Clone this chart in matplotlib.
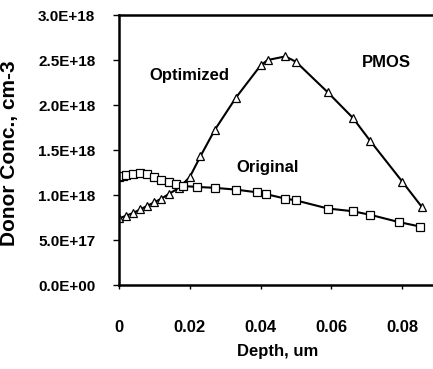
import matplotlib
matplotlib.use("Agg")
import matplotlib.pyplot as plt

# depth (um) and donor concentration (1e18 cm-3)
opt_depth = [0.0, 0.002, 0.004, 0.006, 0.008, 0.010, 0.012, 0.014, 0.017,
             0.020, 0.023, 0.027, 0.033, 0.040, 0.042, 0.047, 0.050, 0.059,
             0.066, 0.071, 0.080, 0.0855]
opt_conc = [0.74, 0.77, 0.80, 0.84, 0.88, 0.92, 0.96, 1.01, 1.08,
            1.20, 1.43, 1.72, 2.08, 2.44, 2.50, 2.54, 2.48, 2.14,
            1.86, 1.60, 1.15, 0.87]

orig_depth = [0.0, 0.001, 0.002, 0.004, 0.006, 0.008, 0.010, 0.012, 0.014,
              0.016, 0.018, 0.022, 0.027, 0.033, 0.039, 0.0415, 0.047,
              0.050, 0.059, 0.066, 0.071, 0.079, 0.085]
orig_conc = [1.20, 1.21, 1.22, 1.23, 1.24, 1.23, 1.20, 1.17, 1.14,
             1.12, 1.10, 1.09, 1.08, 1.06, 1.03, 1.01, 0.96,
             0.94, 0.85, 0.82, 0.78, 0.70, 0.65]

x_ticks = [0, 0.02, 0.04, 0.06, 0.08]
x_labels = ["0", "0.02", "0.04", "0.06", "0.08"]
y_ticks = [0, 0.5, 1.0, 1.5, 2.0, 2.5, 3.0]
y_labels = ["0.0E+00", "5.0E+17", "1.0E+18", "1.5E+18",
            "2.0E+18", "2.5E+18", "3.0E+18"]

plt.rcParams["font.family"] = ["Liberation Sans", "DejaVu Sans"]
plt.rcParams["font.weight"] = "bold"

fig = plt.figure(figsize=(4.33, 3.69), dpi=100)
ax = fig.add_axes([0.2748, 0.2276, 0.7252, 0.7317])

ax.plot(opt_depth, opt_conc, color="black", linewidth=1.5,
        marker="^", markersize=6, markerfacecolor="white",
        markeredgecolor="black", markeredgewidth=0.9)
ax.plot(orig_depth, orig_conc, color="black", linewidth=1.5,
        marker="s", markersize=6, markerfacecolor="white",
        markeredgecolor="black", markeredgewidth=0.9)

ax.set_xlim(0, 0.0887)
ax.set_ylim(0, 3.0)

ax.set_xticks(x_ticks)
ax.set_xticklabels(x_labels, fontsize=12, fontweight="bold")
ax.set_yticks(y_ticks)
ax.set_yticklabels(y_labels, fontsize=11, fontweight="bold")
ax.tick_params(axis="x", direction="out", length=3, width=1, pad=22)
ax.tick_params(axis="y", direction="out", length=4, width=1, pad=13)

for side in ["left", "bottom", "top"]:
    ax.spines[side].set_linewidth(1.8)
ax.spines["right"].set_visible(False)

ax.text(0.0200, 2.33, "Optimized", fontsize=12, fontweight="bold",
        ha="center", va="center")
ax.text(0.0754, 2.47, "PMOS", fontsize=12, fontweight="bold",
        ha="center", va="center")
ax.text(0.0421, 1.31, "Original", fontsize=12, fontweight="bold",
        ha="center", va="center")

ax.set_xlabel("Depth, um", fontsize=12, fontweight="bold")
ax.xaxis.set_label_coords(0.506, -0.22)
ax.set_ylabel("Donor Conc., cm-3", fontsize=15, fontweight="bold")
ax.yaxis.set_label_coords(-0.32, 0.49)

fig.savefig("out.png", dpi=100)
plt.close(fig)
